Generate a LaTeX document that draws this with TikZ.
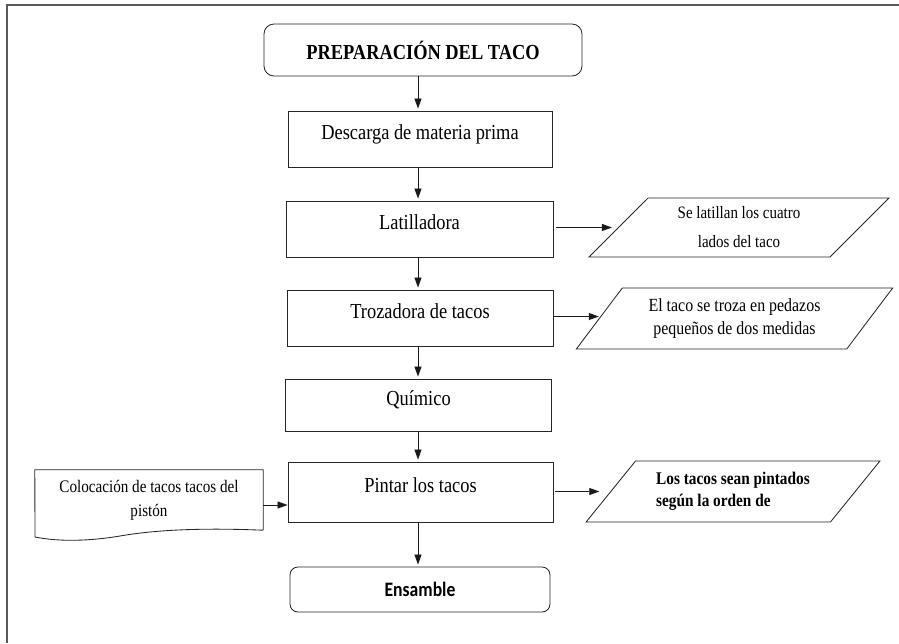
\documentclass[tikz,border=0pt]{standalone}
\usepackage{fontspec}
\usepackage{graphicx}
\setmainfont{Liberation Serif}
\newfontfamily\carlito{Carlito}
\usetikzlibrary{shapes.geometric,arrows.meta}
\newcommand{\cx}[1]{\scalebox{0.86}[1]{#1}}
\tikzset{
  boxstyle/.style={draw=black!85, line width=0.85pt, inner sep=0pt, text height=14pt, text depth=14pt,
    font=\fontsize{21.4}{24}\selectfont},
  roundbox/.style={draw=black!85, line width=0.85pt, inner sep=0pt, rounded corners=10pt},
  para/.style={draw=black!85, line width=0.85pt, inner sep=0pt, trapezium, trapezium stretches=true, align=center},
  arr/.style={line width=0.8pt, draw=black!90, -{Triangle[length=10pt,width=7pt]}}
}
\begin{document}
\begin{tikzpicture}[x=1pt,y=-1pt]
\useasboundingbox (0,0) rectangle (899,643);
% outer frame
\draw[line width=1.5pt, draw=black!65] (7,643) -- (7,5) -- (899,5);

\coordinate (colx) at (418,0);

\node[roundbox, minimum width=318pt, minimum height=52pt, font=\fontsize{21.4}{24}\selectfont\bfseries] (title) at (423,50) {\cx{PREPARACIÓN DEL TACO}};
\node[boxstyle, minimum width=264pt, minimum height=56pt] (desc) at (420,139) {\cx{Descarga de materia prima}};
\node[boxstyle, minimum width=267pt, minimum height=56pt] (lat) at (419.5,229) {\cx{Latilladora}};
\node[boxstyle, minimum width=266pt, minimum height=56pt] (troz) at (420,318) {\cx{Trozadora de tacos}};
\node[boxstyle, minimum width=266pt, minimum height=52pt] (quim) at (418.5,405) {\cx{Químico}};
\node[boxstyle, minimum width=265pt, minimum height=60pt] (pint) at (420.5,492) {\cx{Pintar los tacos}};
\node[roundbox, rounded corners=8pt, minimum width=260pt, minimum height=45pt, font=\carlito\fontsize{20.5}{24}\selectfont\bfseries] (ens) at (420,589.5) {\cx{Ensamble}};

% parallelograms
\node[para, minimum width=300pt, minimum height=59pt, trapezium left angle=46, trapezium right angle=134,
  font=\fontsize{17.4}{29}\selectfont] (p1) at (739,227.5) {\cx{Se latillan los cuatro}\\\cx{lados del taco}};
\node[para, minimum width=317pt, minimum height=61pt, trapezium left angle=48.5, trapezium right angle=131.5,
  font=\fontsize{18.5}{23}\selectfont] (p2) at (734.5,318.5) {\cx{El taco se troza en pedazos}\\\cx{pequeños de dos medidas}};
\node[para, minimum width=294pt, minimum height=61pt, trapezium left angle=44.5, trapezium right angle=135.5,
  font=\fontsize{17.8}{22}\selectfont\bfseries, align=left] (p3) at (733,491.5) {\cx{Los tacos sean pintados}\\\cx{según la orden de}};

% document shape
\node[inner sep=0pt, minimum width=228pt, minimum height=60pt, align=center, font=\fontsize{17.6}{24}\selectfont] (col) at (149,500) {\cx{Colocación de tacos tacos del}\\\cx{pistón}};
\draw[draw=black!85, line width=0.85pt] (col.south east) -- (col.north east) -- (col.north west) -- (35,537)
  .. controls (60,542) and (90,541) .. (120,536)
  .. controls (160,529) and (210,528) .. (col.south east);

% vertical connectors
\draw[arr, shorten >=2pt] (title.south -| colx) -- (desc.north -| colx);
\draw[arr, shorten >=2pt] (desc.south -| colx) -- (lat.north -| colx);
\draw[arr, shorten >=2pt] (lat.south -| colx) -- (troz.north -| colx);
\draw[arr, shorten >=2pt] (troz.south -| colx) -- (quim.north -| colx);
\draw[arr, shorten >=2pt] (quim.south -| colx) -- (pint.north -| colx);
\draw[arr, shorten >=2pt] (pint.south -| colx) -- (ens.north -| colx);

% horizontal connectors
\draw[arr, shorten <=3pt, shorten >=6pt] (lat.east |- p1.west) -- (p1.west);
\draw[arr, shorten <=1pt] ([yshift=2pt]troz.east |- p2.west) -- ([yshift=2pt]p2.west);
\draw[arr, shorten <=2pt, shorten >=11pt] (pint.east |- p3.west) -- (p3.west);
\draw[arr] ([yshift=-5pt]col.east) -- ([yshift=-5pt]col.east -| pint.west);
\end{tikzpicture}
\end{document}
